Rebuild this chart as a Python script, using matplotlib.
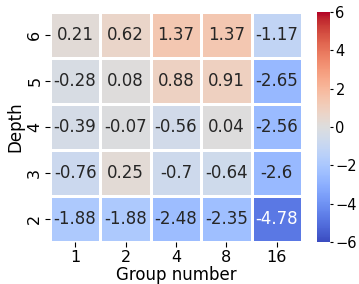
import matplotlib
matplotlib.use("Agg")
import matplotlib.pyplot as plt
import seaborn as sns
import numpy as np

groups = ["1", "2", "4", "8", "16"]
depths = ["6", "5", "4", "3", "2"]
values = [
    [0.21, 0.62, 1.37, 1.37, -1.17],
    [-0.28, 0.08, 0.88, 0.91, -2.65],
    [-0.39, -0.07, -0.56, 0.04, -2.56],
    [-0.76, 0.25, -0.7, -0.64, -2.6],
    [-1.88, -1.88, -2.48, -2.35, -4.78],
]

fig = plt.figure(figsize=(3.59, 2.84), dpi=100)
ax = fig.add_axes([0.139, 0.148, 0.702, 0.81])
cax = fig.add_axes([0.883, 0.148, 0.036, 0.81])
annot = np.array([[f"{v:g}" for v in row] for row in values])
sns.heatmap(np.array(values), ax=ax, cbar_ax=cax, cmap="coolwarm", vmin=-6, vmax=6,
            annot=annot, fmt="", annot_kws={"fontsize": 12},
            linewidths=0.8, linecolor="white",
            xticklabels=groups, yticklabels=depths)
ax.set_xlabel("Group number", fontsize=12, labelpad=1)
ax.set_ylabel("Depth", fontsize=12, labelpad=2)
ax.tick_params(labelsize=11.5, pad=2)
ax.set_yticklabels(depths, rotation=90, va="center")
cax.set_yticks([-6, -4, -2, 0, 2, 4, 6])
cax.tick_params(labelsize=10.5, pad=1.5, length=2.5)
fig.savefig("out.png", dpi=100)
